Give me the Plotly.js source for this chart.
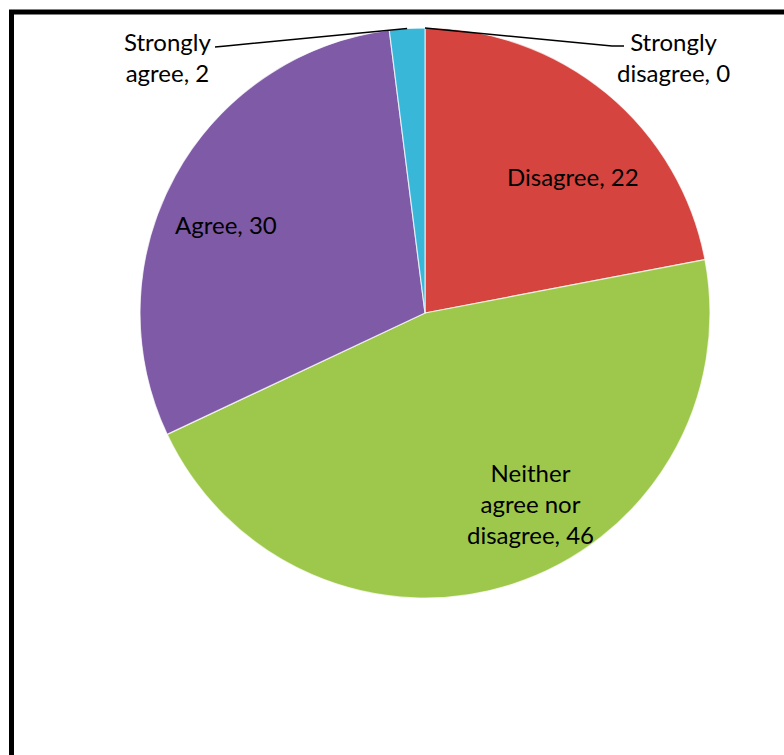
<!DOCTYPE html>
<html>
<head>
<meta charset="utf-8">
<script src="https://cdn.plot.ly/plotly-3.0.1.min.js"></script>
<style>
  html, body { margin: 0; padding: 0; background: #ffffff; }
  #chart { width: 784px; height: 755px; }
</style>
</head>
<body>
<div id="chart"></div>
<script>
// ---- data ----
const categories = ["Strongly disagree", "Disagree", "Neither agree nor disagree", "Agree", "Strongly agree"];
const labelText = ["Strongly<br>disagree, 0", "Disagree, 22", "Neither<br>agree nor<br>disagree, 46", "Agree, 30", "Strongly<br>agree, 2"];
const values = [0, 22, 46, 30, 2];
const colors = ["#4F81BD", "#D5443F", "#9EC84B", "#7E5AA7", "#38B7D9"];

// ---- geometry (pixels) ----
const W = 784, H = 755;
const cx = 425, cy = 313, R = 285;
const px = x => x / W;
const py = y => 1 - y / H;

// label placement (pixels) for each category
const labelPos = [
  {x: 673, y: 57},
  {x: 573, y: 176},
  {x: 530, y: 503},
  {x: 226, y: 224},
  {x: 167, y: 57}
];

const total = values.reduce((a, b) => a + b, 0);
// edge point at mid angle of a slice (clockwise from 12 o'clock)
function edgePoint(i) {
  let cum = 0;
  for (let k = 0; k < i; k++) cum += values[k];
  const mid = (cum + values[i] / 2) / total * 2 * Math.PI;
  return {x: cx + R * Math.sin(mid), y: cy - R * Math.cos(mid)};
}

const font = {family: "Lato, 'Open Sans', sans-serif", size: 24, color: "#000000"};

const annotations = categories.map((c, i) => ({
  x: px(labelPos[i].x), y: py(labelPos[i].y), xref: "paper", yref: "paper",
  text: labelText[i], showarrow: false, font: font, align: "center",
  xanchor: "center", yanchor: "middle"
}));

// leader lines for the two small outside slices
const e0 = edgePoint(0), e4 = edgePoint(4);
const shapes = [
  // frame
  {type: "rect", xref: "paper", yref: "paper",
   x0: px(11.5), y0: -0.1, x1: 1.1, y1: py(12),
   line: {color: "#000000", width: 5}, fillcolor: "rgba(0,0,0,0)"},
  {type: "path", xref: "paper", yref: "paper",
   path: `M ${px(e0.x)} ${py(e0.y)} L ${px(612)} ${py(46)} L ${px(624)} ${py(46)}`,
   line: {color: "#000000", width: 1.5}},
  {type: "path", xref: "paper", yref: "paper",
   path: `M ${px(e4.x)} ${py(e4.y)} L ${px(226)} ${py(46)} L ${px(215)} ${py(47)}`,
   line: {color: "#000000", width: 1.5}}
];

const trace = {
  type: "pie",
  labels: categories,
  values: values,
  sort: false,
  direction: "clockwise",
  rotation: 0,
  textinfo: "none",
  hoverinfo: "label+value",
  marker: {colors: colors, line: {color: "rgba(255,255,255,0.7)", width: 1.2}},
  domain: {x: [px(cx - R), px(cx + R)], y: [py(cy + R), py(cy - R)]},
  showlegend: false
};

const layout = {
  width: W, height: H,
  margin: {l: 0, r: 0, t: 0, b: 0},
  paper_bgcolor: "#ffffff",
  showlegend: false,
  annotations: annotations,
  shapes: shapes
};

Plotly.newPlot("chart", [trace], layout, {displayModeBar: false, staticPlot: true});
</script>
</body>
</html>
